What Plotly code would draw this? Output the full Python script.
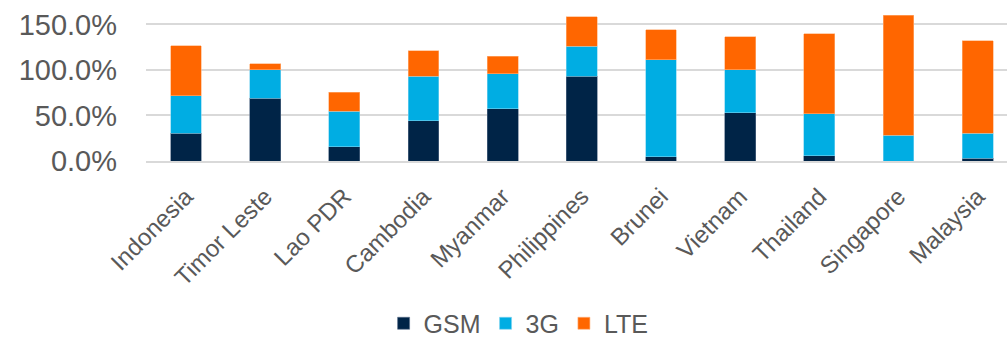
import plotly.graph_objects as go

countries = ["Indonesia", "Timor Leste", "Lao PDR", "Cambodia", "Myanmar", "Philippines",
             "Brunei", "Vietnam", "Thailand", "Singapore", "Malaysia"]
gsm = [30.3, 68.9, 15.7, 44.1, 57.6, 93.3, 4.7, 52.8, 5.5, 0.0, 3.3]
g3 = [41.2, 31.4, 39.0, 49.2, 38.3, 32.9, 106.5, 47.5, 46.3, 28.1, 27.0]
lte = [55.1, 6.6, 20.8, 28.1, 19.3, 32.1, 32.9, 36.1, 87.9, 132.0, 102.1]

colors = {"GSM": "#002447", "3G": "#00ADE3", "LTE": "#FF6600"}
edges = {"GSM": "#5a6f8a", "3G": "#7fd4f0", "LTE": "#ffb07a"}

fig = go.Figure()
for name, vals in [("GSM", gsm), ("3G", g3), ("LTE", lte)]:
    fig.add_trace(go.Bar(
        x=list(range(len(countries))), y=vals, name=name, width=0.39,
        marker=dict(color=colors[name], line=dict(color=edges[name], width=0.6)),
    ))

font = "Liberation Sans, Arial, sans-serif"
fig.update_layout(
    width=1007, height=337,
    margin=dict(l=146, r=0, t=2, b=176),
    barmode="stack",
    plot_bgcolor="white", paper_bgcolor="white",
    font=dict(family=font, color="#595959"),
    showlegend=True,
    legend=dict(orientation="h", xref="container", yref="container",
                x=0.515, y=0.04, xanchor="center", yanchor="middle",
                font=dict(size=25, color="#595959"), itemwidth=30,
                traceorder="normal"),
    bargap=0.5,
)
fig.update_xaxes(
    tickmode="array", tickvals=list(range(len(countries))), ticktext=countries,
    range=[-0.505, 10.37], tickangle=-45, tickfont=dict(size=24, color="#595959"),
    showgrid=False, showline=True, linecolor="#D9D9D9", linewidth=2, ticks="",
    ticklabelstandoff=10,
)
fig.update_yaxes(
    range=[0, 174.7], tickvals=[0, 50, 100, 150],
    ticktext=["0.0%", "50.0%", "100.0%", "150.0%"],
    tickfont=dict(size=29, color="#595959"),
    showgrid=True, gridcolor="#D9D9D9", gridwidth=2,
    zeroline=False, ticklabelstandoff=28,
)
fig.write_html("out.html")
